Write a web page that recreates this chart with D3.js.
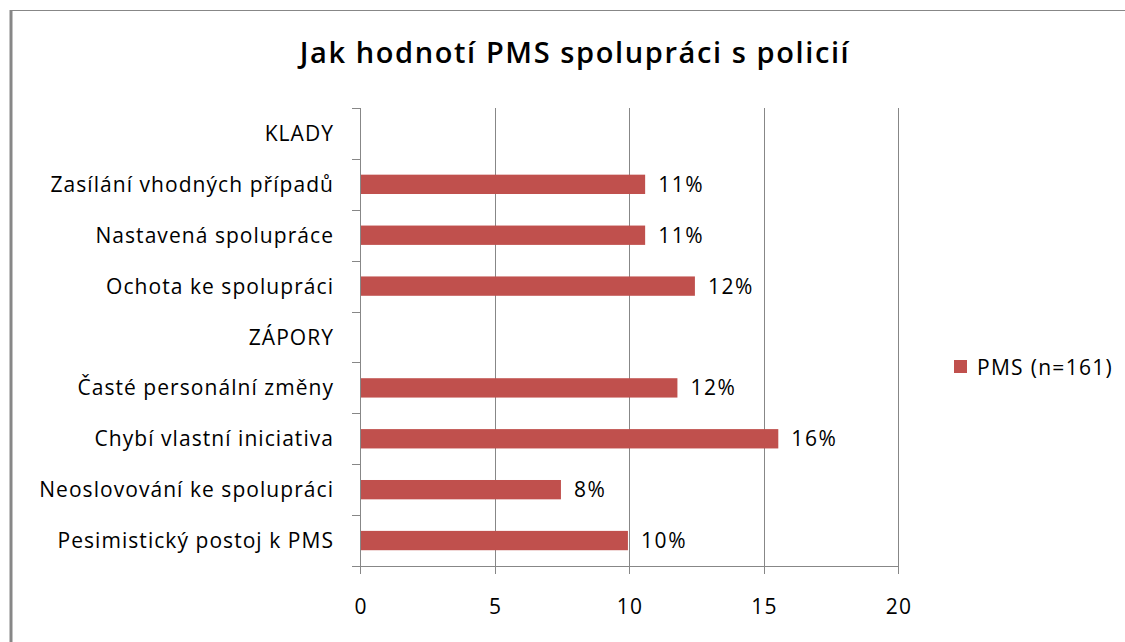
<!DOCTYPE html>
<html>
<head>
<meta charset="utf-8">
<script src="https://cdn.jsdelivr.net/npm/d3@7"></script>
<style>
  body { margin: 0; background: #fff; }
  text { font-family: 'Open Sans', 'Noto Sans', sans-serif; }
</style>
</head>
<body>
<div id="chart"></div>
<script>
const categories = [
  'KLADY',
  'Zasílání vhodných případů',
  'Nastavená spolupráce',
  'Ochota ke spolupráci',
  'ZÁPORY',
  'Časté personální změny',
  'Chybí vlastní iniciativa',
  'Neoslovování ke spolupráci',
  'Pesimistický postoj k PMS'
]
const values = [null, 10.6, 10.6, 12.45, null, 11.8, 15.55, 7.47, 9.96]
const valueLabels = ['', '11%', '11%', '12%', '', '12%', '16%', '8%', '10%']
const xTicks = [0, 5, 10, 15, 20]
const seriesName = 'PMS (n=161)'
const title = 'Jak hodnotí PMS spolupráci s policií'

const margin = { top: 108, left: 360, right: 227, bottom: 76 }
const width = 1125 - margin.left - margin.right
const height = 642 - margin.top - margin.bottom

const root = d3
  .select('#chart')
  .append('svg')
  .attr('width', 1125)
  .attr('height', 642)

// outer frame
root
  .append('path')
  .attr('d', 'M11.5,642 L11.5,10.5 L1125,10.5')
  .attr('fill', 'none')
  .attr('stroke', '#878787')
  .attr('stroke-width', 1)
root
  .append('line')
  .attr('x1', 11)
  .attr('x2', 11)
  .attr('y1', 10)
  .attr('y2', 642)
  .attr('stroke', '#878787')
  .attr('stroke-width', 3)

root
  .append('text')
  .attr('x', 575)
  .attr('y', 63)
  .attr('text-anchor', 'middle')
  .attr('font-size', 29)
  .attr('font-weight', 600)
  .attr('letter-spacing', 1.6)
  .attr('fill', '#000')
  .text(title)

const svg = root
  .append('g')
  .attr('transform', 'translate(' + margin.left + ',' + margin.top + ')')

const xPositionScale = d3.scaleLinear().domain([0, 20]).range([0, width])
const yPositionScale = d3
  .scaleBand()
  .domain(categories)
  .range([0, height])
  .paddingInner(0.62)
  .paddingOuter(0.31)

const bandStep = height / categories.length

// gridlines
svg
  .selectAll('.grid')
  .data(xTicks.slice(1))
  .enter()
  .append('line')
  .attr('class', 'grid')
  .attr('x1', d => Math.round(xPositionScale(d)) + 0.5)
  .attr('x2', d => Math.round(xPositionScale(d)) + 0.5)
  .attr('y1', 0)
  .attr('y2', height + 8)
  .attr('stroke', '#878787')

const rows = categories
  .map((c, i) => ({ cat: c, value: values[i], label: valueLabels[i] }))
  .filter(d => d.value !== null)

// bars
svg
  .selectAll('.bar')
  .data(rows)
  .enter()
  .append('rect')
  .attr('class', 'bar')
  .attr('x', 0)
  .attr('y', d => yPositionScale(d.cat))
  .attr('width', d => xPositionScale(d.value))
  .attr('height', yPositionScale.bandwidth())
  .attr('fill', '#c0504d')

svg
  .selectAll('.value-label')
  .data(rows)
  .enter()
  .append('text')
  .attr('class', 'value-label')
  .attr('x', d => xPositionScale(d.value) + 13)
  .attr('y', d => yPositionScale(d.cat) + yPositionScale.bandwidth() / 2)
  .attr('dy', '0.36em')
  .attr('font-size', 21)
  .attr('letter-spacing', 1.6)
  .attr('fill', '#000')
  .text(d => d.label)

// y axis
svg
  .append('line')
  .attr('x1', 0.5)
  .attr('x2', 0.5)
  .attr('y1', 0)
  .attr('y2', height)
  .attr('stroke', '#878787')

svg
  .selectAll('.ytick')
  .data(d3.range(categories.length + 1))
  .enter()
  .append('line')
  .attr('class', 'ytick')
  .attr('x1', -8)
  .attr('x2', 0)
  .attr('y1', d => Math.round(d * bandStep) + 0.5)
  .attr('y2', d => Math.round(d * bandStep) + 0.5)
  .attr('stroke', '#878787')

svg
  .selectAll('.cat-label')
  .data(categories)
  .enter()
  .append('text')
  .attr('class', 'cat-label')
  .attr('x', -26)
  .attr('y', d => yPositionScale(d) + yPositionScale.bandwidth() / 2)
  .attr('dy', '0.36em')
  .attr('text-anchor', 'end')
  .attr('font-size', 21)
  .attr('letter-spacing', 1.05)
  .attr('fill', '#000')
  .text(d => d)

// x axis
svg
  .append('line')
  .attr('x1', 0)
  .attr('x2', width)
  .attr('y1', height + 0.5)
  .attr('y2', height + 0.5)
  .attr('stroke', '#878787')

svg
  .append('line')
  .attr('x1', 0.5)
  .attr('x2', 0.5)
  .attr('y1', height)
  .attr('y2', height + 8)
  .attr('stroke', '#878787')

svg
  .selectAll('.x-label')
  .data(xTicks)
  .enter()
  .append('text')
  .attr('class', 'x-label')
  .attr('x', d => xPositionScale(d) + 1)
  .attr('y', height + 40)
  .attr('dy', '0.36em')
  .attr('text-anchor', 'middle')
  .attr('font-size', 21)
  .attr('letter-spacing', 1.2)
  .attr('fill', '#000')
  .text(d => d)

// legend
const legend = root.append('g').attr('transform', 'translate(954,360)')
legend
  .append('rect')
  .attr('width', 13)
  .attr('height', 13)
  .attr('fill', '#c0504d')
legend
  .append('text')
  .attr('x', 23)
  .attr('y', 7)
  .attr('dy', '0.36em')
  .attr('font-size', 21)
  .attr('letter-spacing', 1.3)
  .attr('fill', '#000')
  .text(seriesName)
</script>
</body>
</html>
